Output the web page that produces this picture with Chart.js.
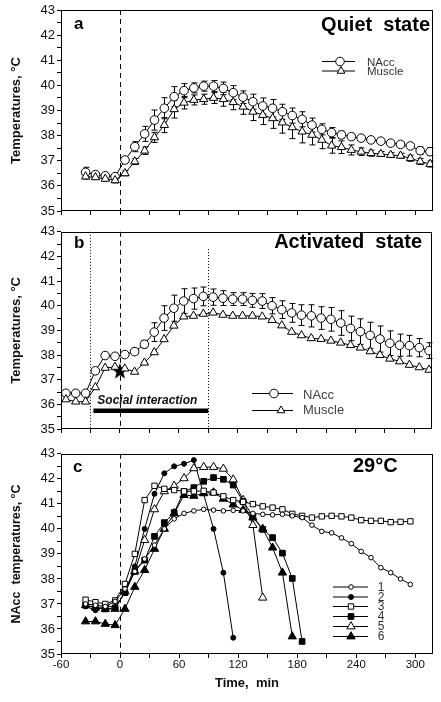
<!DOCTYPE html>
<html>
<head>
<meta charset="utf-8">
<script src="https://cdn.jsdelivr.net/npm/chart.js@4.4.0/dist/chart.umd.min.js"></script>
<style>
  body { margin: 0; background: #fff; }
  #wrap { position: relative; width: 441px; height: 702px; }
  canvas { position: absolute; left: 0; }
</style>
</head>
<body>
<div id="wrap">
  <canvas id="chartA" width="441" height="222" style="top:0px"></canvas>
  <canvas id="chartB" width="441" height="222" style="top:222px"></canvas>
  <canvas id="chartC" width="441" height="258" style="top:444px"></canvas>
</div>
<script>
// panel a - quiet state
const timesA = [-35, -25, -15, -5, 5, 15, 25, 35, 45, 55, 65, 75, 85, 95, 105, 115, 125, 135,
  145, 155, 165, 175, 185, 195, 205, 215, 225, 235, 245, 255, 265, 275, 285, 295, 305, 315];
const naccA = [36.54, 36.45, 36.4, 36.37, 37.03, 37.56, 38.07, 38.62, 39.09, 39.55, 39.79, 39.9,
  39.97, 39.97, 39.88, 39.71, 39.53, 39.35, 39.18, 39.09, 38.95, 38.8, 38.65, 38.42, 38.25, 38.12,
  38.03, 37.96, 37.9, 37.83, 37.78, 37.7, 37.65, 37.59, 37.4, 37.36];
const naccErrA = [0.2, 0.1, 0.08, 0.08, 0.1, 0.2, 0.3, 0.4, 0.42, 0.4, 0.28, 0.2, 0.2, 0.22, 0.25,
  0.28, 0.25, 0.3, 0.32, 0.35, 0.3, 0.3, 0.3, 0.28, 0.22, 0.2, 0.15, 0.12, 0.1, 0.08, 0.08, 0.08,
  0.1, 0.1, 0.15, 0.15];
const muscleA = [36.37, 36.34, 36.28, 36.22, 36.5, 36.97, 37.4, 37.93, 38.42, 39.05, 39.31, 39.42,
  39.45, 39.5, 39.45, 39.33, 39.15, 38.95, 38.82, 38.69, 38.52, 38.33, 38.16, 38.03, 37.83, 37.6,
  37.54, 37.43, 37.36, 37.3, 37.27, 37.23, 37.2, 37.1, 36.97, 36.87];
const muscleErrA = [0.1, 0.08, 0.08, 0.1, 0.1, 0.12, 0.15, 0.2, 0.3, 0.35, 0.25, 0.2, 0.2, 0.22,
  0.28, 0.3, 0.3, 0.35, 0.38, 0.4, 0.42, 0.45, 0.45, 0.4, 0.35, 0.3, 0.25, 0.2, 0.15, 0.12, 0.1,
  0.1, 0.1, 0.12, 0.12, 0.12];

// panel b - activated state
const timesB = [-55, -45, -35, -25, -15, -5, 5, 15, 25, 35, 45, 55, 65, 75, 85, 95, 105, 115, 125,
  135, 145, 155, 165, 175, 185, 195, 205, 215, 225, 235, 245, 255, 265, 275, 285, 295, 305, 315];
const naccB = [36.45, 36.45, 36.45, 37.36, 37.98, 37.95, 38.02, 38.14, 38.44, 38.93, 39.5, 39.9,
  40.19, 40.29, 40.38, 40.35, 40.31, 40.27, 40.27, 40.22, 40.19, 40.0, 39.84, 39.71, 39.62, 39.59,
  39.5, 39.45, 39.3, 39.08, 38.95, 38.8, 38.65, 38.48, 38.4, 38.38, 38.3, 38.18];
const naccErrB = [0.05, 0.05, 0.05, 0.08, 0.08, 0.08, 0.08, 0.1, 0.15, 0.38, 0.5, 0.53, 0.5, 0.43,
  0.38, 0.33, 0.3, 0.26, 0.26, 0.28, 0.3, 0.33, 0.36, 0.38, 0.42, 0.45, 0.46, 0.48, 0.5, 0.5, 0.52,
  0.53, 0.53, 0.5, 0.45, 0.42, 0.37, 0.32];
const muscleB = [36.2, 36.11, 36.11, 36.69, 37.48, 37.52, 37.45, 37.32, 37.69, 38.11, 38.64, 39.19,
  39.56, 39.59, 39.67, 39.72, 39.63, 39.59, 39.59, 39.59, 39.56, 39.42, 39.2, 38.94, 38.8, 38.68,
  38.65, 38.58, 38.5, 38.4, 38.3, 38.15, 38.0, 37.85, 37.74, 37.6, 37.5, 37.4];
const starTime = [0];
const starTemp = [37.35];
const socialStart = -27;
const socialEnd = 90;
const socialLevel = 35.74;
const dottedTimes = [-30, 90];

// panel c - individual animals at 29 °C
const timesC = [-35, -25, -15, -5, 5, 15, 25, 35, 45, 55, 65, 75, 85, 95, 105, 115, 125, 135, 145,
  155, 165, 175, 185, 195, 205, 215, 225, 235, 245, 255, 265, 275, 285, 295];
const rat1 = [37.0, 36.95, 36.9, 37.1, 37.6, 38.3, 38.8, 39.35, 40.0, 40.4, 40.62, 40.72, 40.78,
  40.75, 40.72, 40.74, 40.72, 40.62, 40.58, 40.56, 40.58, 40.52, 40.45, 40.15, 39.9, 39.84, 39.64,
  39.41, 39.1, 38.85, 38.45, 38.25, 38.0, 37.78];
const rat2 = [36.9, 36.75, 36.95, 36.85, 37.45, 38.5, 40.0, 41.4, 42.22, 42.5, 42.6, 42.75, null,
  40.0, 38.25, 35.65, null, null, null, null, null, null, null, null, null, null, null, null, null,
  null, null, null, null, null];
const rat3 = [37.17, 37.07, 37.0, 37.14, 37.8, 39.0, 41.15, 41.72, 41.6, 41.55, 41.5, 41.5, 41.52,
  41.45, 41.3, 41.15, 41.08, 40.99, 40.9, 40.85, 40.78, 40.6, 40.52, 40.45, 40.5, 40.52, 40.5,
  40.45, 40.35, 40.32, 40.32, 40.27, 40.28, 40.3];
const rat4 = [36.95, 36.85, 36.8, 36.85, 37.45, 38.3, 38.75, 39.7, 40.25, 40.65, 41.5, 41.65, 41.9,
  42.05, 41.98, 41.75, 41.1, 40.52, 39.98, 39.65, 39.03, 38.02, 35.5, null, null, null, null, null,
  null, null, null, null, null, null];
const rat5 = [36.95, 36.85, 36.8, 36.8, 37.5, 38.3, 39.55, 40.78, 41.5, 41.72, 42.02, 42.42, 42.47,
  42.47, 42.4, 41.97, 41.15, 40.15, 37.25, null, null, null, null, null, null, null, null, null,
  null, null, null, null, null, null];
const rat6 = [36.3, 36.3, 36.2, 36.15, 36.8, 37.68, 38.35, 39.2, 40.0, 40.62, 41.35, 41.32, 41.42,
  41.45, 41.2, 40.97, 40.75, 40.45, 40.0, 39.25, 38.25, 35.7, null, null, null, null, null, null,
  null, null, null, null, null, null];

const xTickValues = [-60, -30, 0, 30, 60, 90, 120, 150, 180, 210, 240, 270, 300];
const xTickLabels = [-60, 0, 60, 120, 180, 240, 300];
const yTickLabels = [35, 36, 37, 38, 39, 40, 41, 42, 43];

Chart.defaults.font.family = "'Liberation Sans', Arial, Helvetica, sans-serif";
Chart.defaults.color = '#111';

function pts(times, vals) {
  return times.map((t, i) => ({ x: t, y: vals[i] })).filter(p => p.y !== null);
}

function series(label, times, vals, style, radius, filled, errors) {
  return {
    label: label,
    data: pts(times, vals),
    showLine: true,
    borderColor: '#000',
    borderWidth: 1,
    pointStyle: style,
    pointRadius: radius,
    pointHoverRadius: radius,
    pointBackgroundColor: filled ? '#000' : '#fff',
    pointBorderColor: '#000',
    pointBorderWidth: 1,
    errors: errors
  };
}

function makeStar() {
  const c = document.createElement('canvas');
  c.width = 18; c.height = 18;
  const g = c.getContext('2d');
  g.fillStyle = '#000';
  g.beginPath();
  for (let k = 0; k < 10; k++) {
    const r = k % 2 ? 3.6 : 8.5;
    const a = -Math.PI / 2 + k * Math.PI / 5;
    const px = 9 + r * Math.cos(a), py = 9.5 + r * Math.sin(a);
    if (k) g.lineTo(px, py); else g.moveTo(px, py);
  }
  g.closePath();
  g.fill();
  return c;
}

// frame, zero line, error bars, labels and hand placed legends
const decor = {
  id: 'decor',
  beforeDatasetsDraw(chart, args, o) {
    const { ctx, chartArea: a, scales: { x, y } } = chart;
    ctx.save();
    ctx.strokeStyle = '#000';
    ctx.lineWidth = 1;

    const x0 = Math.round(x.getPixelForValue(0)) + 0.5;
    ctx.setLineDash([5, 4]);
    ctx.beginPath(); ctx.moveTo(x0, a.top); ctx.lineTo(x0, a.bottom); ctx.stroke();

    ctx.setLineDash([1, 2]);
    (o.dotted || []).forEach(d => {
      const xd = Math.round(x.getPixelForValue(d.t)) + 0.5;
      ctx.beginPath(); ctx.moveTo(xd, y.getPixelForValue(d.from)); ctx.lineTo(xd, a.bottom); ctx.stroke();
    });
    ctx.setLineDash([]);

    if (o.bar) {
      ctx.lineWidth = 4.5;
      const yb = y.getPixelForValue(o.bar.level);
      ctx.beginPath();
      ctx.moveTo(x.getPixelForValue(o.bar.from), yb);
      ctx.lineTo(x.getPixelForValue(o.bar.to), yb);
      ctx.stroke();
      ctx.lineWidth = 1;
      ctx.fillStyle = '#111';
      ctx.font = "italic bold 12px 'Liberation Sans', Arial, sans-serif";
      ctx.textAlign = 'left';
      ctx.textBaseline = 'alphabetic';
      ctx.fillText(o.bar.text, x.getPixelForValue(o.bar.textAt), y.getPixelForValue(o.bar.textLevel));
    }

    chart.data.datasets.forEach((ds, i) => {
      if (!ds.errors) return;
      const meta = chart.getDatasetMeta(i);
      meta.data.forEach((pt, j) => {
        const e = ds.errors[j];
        if (!e) return;
        const v = ds.data[j].y;
        const yt = y.getPixelForValue(v + e), yl = y.getPixelForValue(v - e);
        const px = Math.round(pt.x) + 0.5;
        ctx.beginPath();
        ctx.moveTo(px, yt); ctx.lineTo(px, yl);
        ctx.moveTo(px - 3, yt); ctx.lineTo(px + 3, yt);
        ctx.moveTo(px - 3, yl); ctx.lineTo(px + 3, yl);
        ctx.stroke();
      });
    });
    ctx.restore();
  },
  afterDraw(chart, args, o) {
    const { ctx, chartArea: a } = chart;
    ctx.save();
    ctx.strokeStyle = '#000';
    ctx.lineWidth = 1;
    ctx.strokeRect(Math.round(a.left) + 0.5, Math.round(a.top) + 0.5,
      Math.round(a.right - a.left) - 1, Math.round(a.bottom - a.top) - 1);

    ctx.fillStyle = '#000';
    ctx.textBaseline = 'alphabetic';
    (o.texts || []).forEach(t => {
      ctx.font = t.font;
      ctx.textAlign = t.align || 'left';
      ctx.fillText(t.text, t.x, t.y);
    });

    const lg = o.legend;
    if (lg) {
      ctx.font = lg.font;
      ctx.textBaseline = 'middle';
      ctx.textAlign = lg.align || 'left';
      lg.rows.forEach(r => {
        ctx.strokeStyle = '#000';
        ctx.lineWidth = 1;
        ctx.beginPath(); ctx.moveTo(lg.x1, r.y + 0.5); ctx.lineTo(lg.x2, r.y + 0.5); ctx.stroke();
        ctx.fillStyle = r.filled ? '#000' : '#fff';
        Chart.helpers.drawPoint(ctx, { pointStyle: r.style, radius: r.r, rotation: 0, borderWidth: 1 }, r.mx, r.y + 0.5);
        ctx.fillStyle = lg.color;
        ctx.fillText(r.text, lg.tx, r.ty);
      });
    }
    ctx.restore();
  }
};

function panelOptions(p) {
  return {
    responsive: false,
    animation: false,
    events: [],
    layout: { padding: { top: p.padTop, right: 8, left: 0, bottom: 0 } },
    plugins: {
      legend: { display: false },
      tooltip: { enabled: false },
      decor: p.decor
    },
    scales: {
      x: {
        type: 'linear',
        min: -60,
        max: 318,
        afterBuildTicks: s => { s.ticks = xTickValues.map(v => ({ value: v })); },
        afterFit: s => { s.height = p.xHeight; },
        border: { display: false },
        grid: { drawOnChartArea: false, drawTicks: true, tickLength: 4, color: '#000' },
        ticks: {
          autoSkip: false,
          maxRotation: 0,
          padding: 0,
          color: '#111',
          font: { size: 11.5 },
          callback: v => (p.xLabels && xTickLabels.includes(v)) ? String(v) : ''
        },
        title: p.xTitle ? {
          display: true,
          text: p.xTitle,
          color: '#111',
          font: { size: 13, weight: 'bold' },
          padding: { top: 0, bottom: 11 }
        } : { display: false }
      },
      y: {
        min: 35,
        max: 43,
        afterFit: s => { s.width = 61; },
        border: { display: false },
        grid: { drawOnChartArea: false, drawTicks: true, tickLength: 4, color: '#000' },
        ticks: {
          stepSize: 0.5,
          autoSkip: false,
          padding: 2,
          color: '#111',
          font: { size: 13 },
          callback: v => yTickLabels.includes(v) ? String(v) : ''
        },
        title: {
          display: true,
          text: p.yTitle,
          color: '#111',
          font: { size: p.yTitleSize || 13, weight: 'bold' },
          padding: { top: 9, bottom: 0 }
        }
      }
    }
  };
}

const bigBold = "bold 20px 'Liberation Sans', Arial, sans-serif";
const letterBold = "bold 17px 'Liberation Sans', Arial, sans-serif";

const chartA = new Chart(document.getElementById('chartA'), {
  type: 'scatter',
  data: {
    datasets: [
      series('Muscle', timesA, muscleA, 'triangle', 4.8, false, muscleErrA),
      series('NAcc', timesA, naccA, 'circle', 4.3, false, naccErrA)
    ]
  },
  options: panelOptions({
    padTop: 10, xHeight: 11, xLabels: false, yTitle: 'Temperatures, °C',
    decor: {
      texts: [
        { text: 'a', x: 74, y: 29, font: letterBold },
        { text: 'Quiet  state', x: 430, y: 31, font: bigBold, align: 'right' }
      ],
      legend: {
        x1: 322, x2: 355, tx: 367, color: '#333',
        font: "11.5px 'Liberation Sans', Arial, sans-serif",
        rows: [
          { y: 61, mx: 340, style: 'circle', r: 4.3, filled: false, text: 'NAcc', ty: 63 },
          { y: 70.5, mx: 341, style: 'triangle', r: 4.5, filled: false, text: 'Muscle', ty: 72 }
        ]
      }
    }
  }),
  plugins: [decor]
});

const chartB = new Chart(document.getElementById('chartB'), {
  type: 'scatter',
  data: {
    datasets: [
      series('Muscle', timesB, muscleB, 'triangle', 4.8, false, null),
      series('NAcc', timesB, naccB, 'circle', 4.3, false, naccErrB),
      {
        label: 'star',
        data: pts(starTime, starTemp),
        showLine: false,
        pointStyle: makeStar(),
        pointRadius: 8
      }
    ]
  },
  options: panelOptions({
    padTop: 6, xHeight: 15, xLabels: false, yTitle: 'Temperatures, °C',
    decor: {
      dotted: [{ t: dottedTimes[0], from: 43 }, { t: dottedTimes[1], from: 42.3 }],
      bar: {
        from: socialStart, to: socialEnd, level: socialLevel,
        text: 'Social interaction', textAt: -23, textLevel: 36.0
      },
      texts: [
        { text: 'b', x: 74, y: 26, font: letterBold },
        { text: 'Activated  state', x: 422, y: 26, font: bigBold, align: 'right' }
      ],
      legend: {
        x1: 252, x2: 293, tx: 303, color: '#444',
        font: "13px 'Liberation Sans', Arial, sans-serif",
        rows: [
          { y: 171, mx: 274, style: 'circle', r: 4.3, filled: false, text: 'NAcc', ty: 173 },
          { y: 188, mx: 281, style: 'triangle', r: 4.5, filled: false, text: 'Muscle', ty: 188 }
        ]
      }
    }
  }),
  plugins: [decor]
});

const chartC = new Chart(document.getElementById('chartC'), {
  type: 'scatter',
  data: {
    datasets: [
      series('1', timesC, rat1, 'circle', 2.3, false, null),
      series('3', timesC, rat3, 'rect', 3.8, false, null),
      series('4', timesC, rat4, 'rect', 4.0, true, null),
      series('6', timesC, rat6, 'triangle', 4.8, true, null),
      series('5', timesC, rat5, 'triangle', 4.8, false, null),
      series('2', timesC, rat2, 'circle', 2.5, true, null)
    ]
  },
  options: panelOptions({
    padTop: 8, xHeight: 48, xLabels: true, xTitle: 'Time,  min',
    yTitle: 'NAcc  temperatures, °C', yTitleSize: 12.5,
    decor: {
      texts: [
        { text: 'c', x: 73, y: 28, font: letterBold },
        { text: '29°C', x: 353, y: 28, font: bigBold }
      ],
      legend: {
        x1: 333, x2: 368, tx: 381, align: 'center', color: '#333',
        font: "12px 'Liberation Sans', Arial, sans-serif",
        rows: [
          { y: 142.5, mx: 351, style: 'circle', r: 2.3, filled: false, text: '1', ty: 143.5 },
          { y: 152.5, mx: 351, style: 'circle', r: 2.5, filled: true, text: '2', ty: 153.5 },
          { y: 162, mx: 351, style: 'rect', r: 3.8, filled: false, text: '3', ty: 163 },
          { y: 172, mx: 351, style: 'rect', r: 4.0, filled: true, text: '4', ty: 173 },
          { y: 182, mx: 351, style: 'triangle', r: 4.8, filled: false, text: '5', ty: 183 },
          { y: 192, mx: 351, style: 'triangle', r: 4.8, filled: true, text: '6', ty: 193 }
        ]
      }
    }
  }),
  plugins: [decor]
});
</script>
</body>
</html>
